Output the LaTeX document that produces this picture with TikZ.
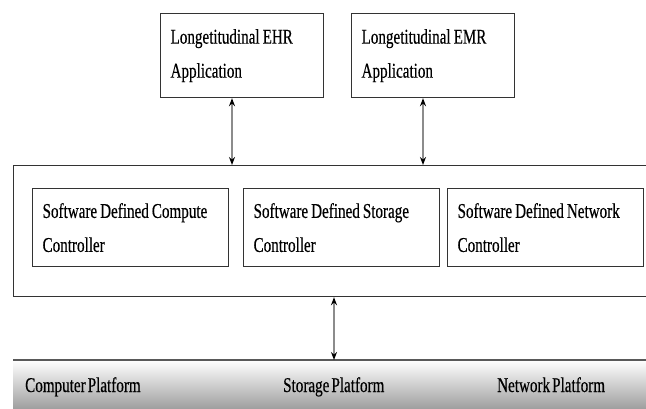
\documentclass[tikz,border=0pt]{standalone}
\usepackage{fontspec}
\setmainfont[FakeStretch=0.72, WordSpace=0.55, FakeBold=0.4]{Liberation Serif}
\usetikzlibrary{arrows.meta}

\tikzset{
    boxfont/.style={font=\fontsize{21}{34}\selectfont},
    appbox/.style={boxfont, draw=black!80, line width=1.2pt, anchor=north west, inner xsep=10pt, inner ysep=0pt, minimum height=84pt, text width=143pt, align=left, execute at begin node={\spaceskip=3pt plus 1pt\relax}},
    ctrlbox/.style={appbox, minimum height=78pt, text width=176pt},
    platlabel/.style={boxfont, anchor=base west, inner sep=0pt},
    biarrow/.style={{Stealth[length=8pt,width=6pt,black]}-{Stealth[length=8pt,width=6pt,black]}, black!45, line width=1.4pt},
}

\begin{document}
\begin{tikzpicture}[x=1pt,y=-1pt]
    \useasboundingbox (0,0) rectangle (646,409);
    \clip (0,0) rectangle (646,409);
    % applications
    \node[appbox] (ehr) at (160,13) {Longetitudinal EHR\\Application};
    \node[appbox] (emr) at (351,13) {Longetitudinal EMR\\Application};
    % controller layer
    \node[draw=black!80, line width=1.2pt, anchor=north west, minimum width=640pt, minimum height=131pt] (ctrl) at (13,165) {};
    \node[ctrlbox] (compute) at (32,188) {Software Defined Compute\\Controller};
    \node[ctrlbox] (storage) at (243,188) {Software Defined Storage\\Controller};
    \node[ctrlbox] (network) at (447,188) {Software Defined Network\\Controller};
    % platforms
    \node[anchor=north west, minimum width=640pt, minimum height=49pt, inner sep=0pt, top color=white, bottom color=black!38] (plat) at (13,360) {};
    \draw[black!65, line width=1.2pt] (plat.north west) -- (plat.north east);
    \node[platlabel] (complat) at (25,392) {Computer Platform};
    \node[platlabel] (storplat) at (283,392) {Storage Platform};
    \node[platlabel] (netplat) at (497,392) {Network Platform};
    % links
    \coordinate (ehrx) at (232,0);
    \coordinate (emrx) at (423,0);
    \coordinate (platx) at (334,0);
    \draw[biarrow] (ehr.south -| ehrx) -- (ctrl.north -| ehrx);
    \draw[biarrow] (emr.south -| emrx) -- (ctrl.north -| emrx);
    \draw[biarrow] (ctrl.south -| platx) -- (plat.north -| platx);
\end{tikzpicture}
\end{document}
